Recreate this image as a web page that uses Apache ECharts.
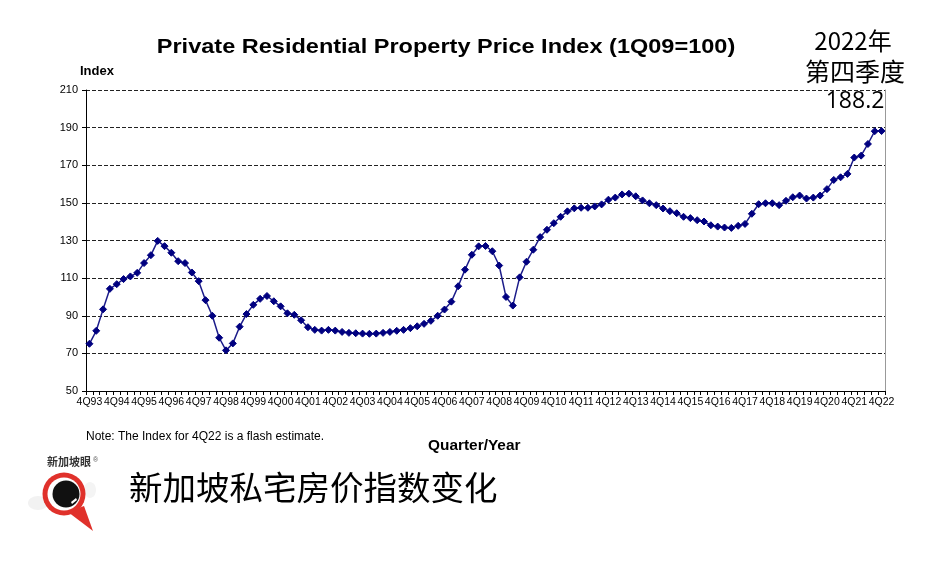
<!DOCTYPE html>
<html>
<head>
<meta charset="utf-8">
<script src="https://cdn.jsdelivr.net/npm/echarts@6/dist/echarts.min.js"></script>
<style>
html,body{margin:0;padding:0;background:#fff;}
#c{width:933px;height:563px;}
</style>
</head>
<body>
<div id="c"></div>
<script>
// Quarter labels from 4Q93 to 4Q22
var quarters = [];
(function(){
  quarters.push('4Q93');
  for (var y = 1994; y <= 2022; y++) {
    for (var q = 1; q <= 4; q++) {
      quarters.push(q + 'Q' + String(y).slice(2));
    }
  }
})();

var indexValues = [
  75.1, 82.0, 93.4, 104.3, 106.8, 109.5, 110.9, 112.8, 118.0, 122.2,
  129.8, 127.0, 123.5, 119.0, 118.0, 113.0, 108.4, 98.3, 90.0, 78.3,
  71.6, 75.3, 84.2, 90.9, 95.8, 99.0, 100.5, 97.7, 95.0, 91.3,
  90.5, 87.6, 83.9, 82.5, 82.1, 82.5, 82.1, 81.4, 80.9, 80.7,
  80.5, 80.4, 80.5, 80.9, 81.4, 82.0, 82.5, 83.4, 84.4, 85.7,
  87.3, 90.0, 93.3, 97.5, 105.7, 114.5, 122.4, 126.9, 127.1, 124.3,
  116.7, 100.0, 95.4, 110.4, 118.7, 125.1, 131.8, 135.7, 139.2, 142.6,
  145.5, 147.1, 147.4, 147.4, 148.1, 149.2, 151.7, 152.8, 154.5, 154.9,
  153.5, 151.3, 149.8, 148.8, 147.0, 145.6, 144.5, 142.6, 141.9, 140.8,
  140.1, 138.1, 137.4, 136.9, 136.7, 137.8, 138.8, 144.2, 149.3, 149.8,
  149.8, 148.8, 151.1, 153.0, 153.9, 152.3, 152.8, 153.9, 157.3, 162.2,
  163.6, 165.4, 174.1, 175.1, 181.3, 188.1, 188.2
];

var yTicks = { min: 50, max: 210, step: 20 };
var titleText = 'Private Residential Property Price Index (1Q09=100)';
var noteText = 'Note: The Index for 4Q22 is a flash estimate.';
var xAxisName = 'Quarter/Year';
var yAxisName = 'Index';
var cnTitle = '新加坡私宅房价指数变化';
var annotLines = ['2022年', '第四季度', '188.2'];
var logoText = '新加坡眼';

var chart = echarts.init(document.getElementById('c'), null, {renderer: 'canvas'});
var latin = '"Liberation Sans", Arial, sans-serif';
var cjk = '"Noto Sans CJK SC", sans-serif';

chart.setOption({
  animation: false,
  backgroundColor: '#ffffff',
  grid: { left: 86, right: 48, top: 90, bottom: 172, containLabel: false },
  xAxis: {
    type: 'category',
    data: quarters,
    boundaryGap: true,
    axisLine: { lineStyle: { color: '#000', width: 1 } },
    axisTick: { show: true, interval: 0, length: 4, lineStyle: { color: '#000' } },
    axisLabel: { interval: 3, margin: 6, fontSize: 10.5, color: '#000', fontFamily: latin },
    splitLine: { show: false }
  },
  yAxis: [{
    type: 'value',
    min: yTicks.min, max: yTicks.max, interval: yTicks.step,
    axisLine: { show: true, lineStyle: { color: '#000', width: 1 } },
    axisTick: { show: true, length: 4, lineStyle: { color: '#000' } },
    axisLabel: { margin: 8, fontSize: 11, color: '#000', fontFamily: latin },
    splitLine: { show: true, lineStyle: { color: '#222', type: [4, 2], width: 1 } }
  }, {
    type: 'value', position: 'right',
    min: yTicks.min, max: yTicks.max, interval: yTicks.step,
    axisLine: { show: true, lineStyle: { color: '#999', width: 1 } },
    axisTick: { show: false }, axisLabel: { show: false }, splitLine: { show: false }
  }],
  series: [{
    type: 'line',
    data: indexValues,
    symbol: 'diamond',
    symbolSize: [7, 7],
    showAllSymbol: true,
    lineStyle: { color: '#1c1c8a', width: 1.5 },
    itemStyle: { color: '#000080', borderColor: '#000080' }
  }],
  graphic: [
    { type: 'text', x: 446, y: 47, scaleX: 1.12, originX: 0, style: { text: titleText, font: 'bold 21px ' + latin, fill: '#000', textAlign: 'center', textVerticalAlign: 'middle' } },
    { type: 'text', x: 80, y: 71, style: { text: yAxisName, font: 'bold 13px ' + latin, fill: '#000', textVerticalAlign: 'middle' } },
    { type: 'text', x: 86, y: 437, style: { text: noteText, font: '12px ' + latin, fill: '#000', textVerticalAlign: 'middle' } },
    { type: 'text', x: 428, y: 446, scaleX: 1.1, style: { text: xAxisName, font: 'bold 14px ' + latin, fill: '#000', textVerticalAlign: 'middle' } },
    { type: 'text', x: 129, y: 487, style: { text: cnTitle, font: '33.5px ' + cjk, fill: '#000', textVerticalAlign: 'middle' } },
    { type: 'text', x: 853, y: 41, style: { text: annotLines[0], font: '24px ' + cjk, fill: '#000', textAlign: 'center', textVerticalAlign: 'middle' } },
    { type: 'text', x: 855, y: 71, style: { text: annotLines[1], font: '25px ' + cjk, fill: '#000', textAlign: 'center', textVerticalAlign: 'middle' } },
    { type: 'text', x: 855, y: 101, style: { text: annotLines[2], font: '23px "Open Sans", sans-serif', fill: '#000', textAlign: 'center', textVerticalAlign: 'middle' } },
    // logo
    { type: 'ellipse', shape: { cx: 38, cy: 503, rx: 10, ry: 7 }, style: { fill: '#f2f2f2' }, z: 1 },
    { type: 'ellipse', shape: { cx: 90, cy: 490, rx: 6, ry: 8 }, style: { fill: '#f4f4f4' }, z: 1 },
    { type: 'polygon', shape: { points: [[68, 512], [84, 506], [93, 531]] }, style: { fill: '#e0312b' }, z: 2 },
    { type: 'circle', shape: { cx: 64, cy: 494, r: 21.5 }, style: { fill: '#e0312b' }, z: 3 },
    { type: 'circle', shape: { cx: 64, cy: 494, r: 16.5 }, style: { fill: '#ffffff' }, z: 4 },
    { type: 'circle', shape: { cx: 66, cy: 494, r: 13.5 }, style: { fill: '#111111' }, z: 5 },
    { type: 'polygon', shape: { points: [[71, 502], [76, 498], [77, 500], [72, 504]] }, style: { fill: '#ffffff' }, z: 6 },
    { type: 'text', x: 47, y: 462, style: { text: logoText, font: 'bold 11px ' + cjk, fill: '#333', textVerticalAlign: 'middle' }, z: 6 },
    { type: 'text', x: 93, y: 460, style: { text: '®', font: '7px ' + latin, fill: '#555', textVerticalAlign: 'middle' }, z: 6 }
  ]
});
</script>
</body>
</html>
